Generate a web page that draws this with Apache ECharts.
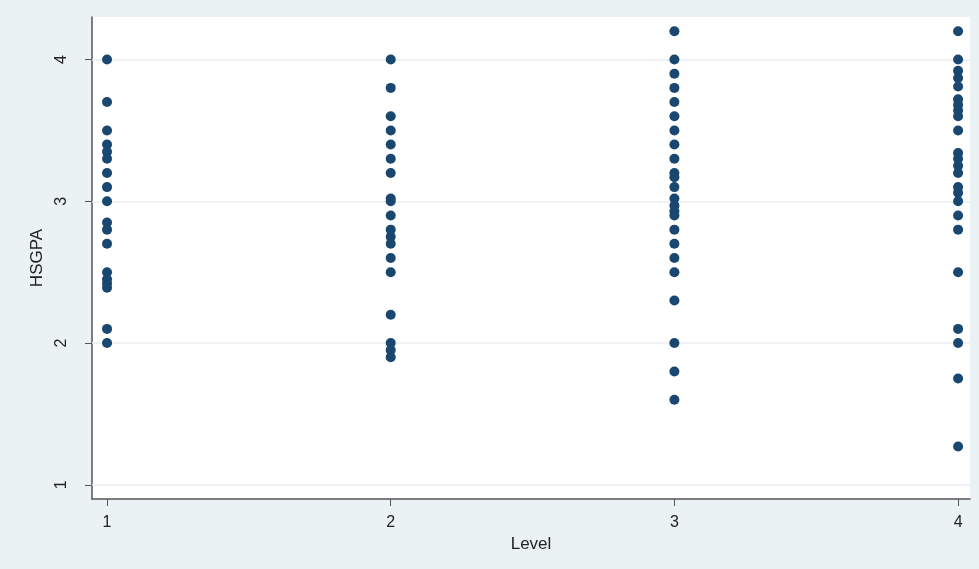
<!DOCTYPE html>
<html>
<head>
<meta charset="utf-8">
<script src="https://cdn.jsdelivr.net/npm/echarts@6/dist/echarts.min.js"></script>
<style>
html,body{margin:0;padding:0;background:#eaf2f3;}
#c{width:979px;height:569px;}
</style>
</head>
<body>
<div id="c"></div>
<script>
var levels = [1, 2, 3, 4];
var level1 = [4.0, 3.7, 3.5, 3.4, 3.35, 3.3, 3.2, 3.1, 3.0, 2.85, 2.8, 2.7, 2.5, 2.45, 2.42, 2.39, 2.1, 2.0];
var level2 = [4.0, 3.8, 3.6, 3.5, 3.4, 3.3, 3.2, 3.02, 3.0, 2.9, 2.8, 2.75, 2.7, 2.6, 2.5, 2.2, 2.0, 1.95, 1.9];
var level3 = [4.2, 4.0, 3.9, 3.8, 3.7, 3.6, 3.5, 3.4, 3.3, 3.2, 3.17, 3.1, 3.02, 2.97, 2.93, 2.9, 2.8, 2.7, 2.6, 2.5, 2.3, 2.0, 1.8, 1.6];
var level4 = [4.2, 4.0, 3.92, 3.87, 3.81, 3.72, 3.68, 3.64, 3.6, 3.5, 3.34, 3.3, 3.25, 3.2, 3.1, 3.06, 3.0, 2.9, 2.8, 2.5, 2.1, 2.0, 1.75, 1.27];
var yTicks = [1, 2, 3, 4];
var xTicks = [1, 2, 3, 4];

var groups = [level1, level2, level3, level4];
var points = [];
groups.forEach(function (g, i) {
  g.forEach(function (v) { points.push([levels[i], v]); });
});

var chart = echarts.init(document.getElementById('c'), null, {renderer: 'canvas'});
var font = 'Liberation Sans, Arial, sans-serif';
chart.setOption({
  backgroundColor: '#eaf2f3',
  animation: false,
  grid: {left: 92, right: 9, top: 17, bottom: 70, show: true, backgroundColor: '#ffffff', borderWidth: 0},
  xAxis: {
    type: 'value', min: 0.947, max: 4.042,
    name: 'Level', nameLocation: 'middle', nameGap: 36,
    nameTextStyle: {fontFamily: font, fontSize: 17, color: '#222'},
    axisLine: {show: true, lineStyle: {color: '#555', width: 1.5}},
    axisTick: {show: true, length: 7, lineStyle: {color: '#555'}, customValues: xTicks},
    axisLabel: {fontFamily: font, fontSize: 16, color: '#222', margin: 16, customValues: xTicks},
    splitLine: {show: false}
  },
  yAxis: {
    type: 'value', min: 0.9, max: 4.3,
    name: 'HSGPA', nameLocation: 'middle', nameGap: 45, nameRotate: 90,
    nameTextStyle: {fontFamily: font, fontSize: 17, color: '#222'},
    axisLine: {show: true, lineStyle: {color: '#555', width: 1.5}},
    axisTick: {show: true, length: 7, lineStyle: {color: '#555'}, customValues: yTicks},
    axisLabel: {fontFamily: font, fontSize: 16, color: '#222', margin: 22, rotate: 90, customValues: yTicks},
    splitLine: {show: false}
  },
  series: [{
    type: 'scatter',
    data: [],
    z: 1,
    markLine: {
      silent: true, symbol: 'none', label: {show: false},
      lineStyle: {color: '#e8eeef', type: 'solid', width: 1.5},
      data: yTicks.map(function (t) { return {yAxis: t}; })
    }
  }, {
    type: 'scatter',
    data: points,
    symbol: 'circle',
    symbolSize: 10,
    itemStyle: {color: '#1a476f', opacity: 1},
    z: 5
  }]
});
</script>
</body>
</html>
